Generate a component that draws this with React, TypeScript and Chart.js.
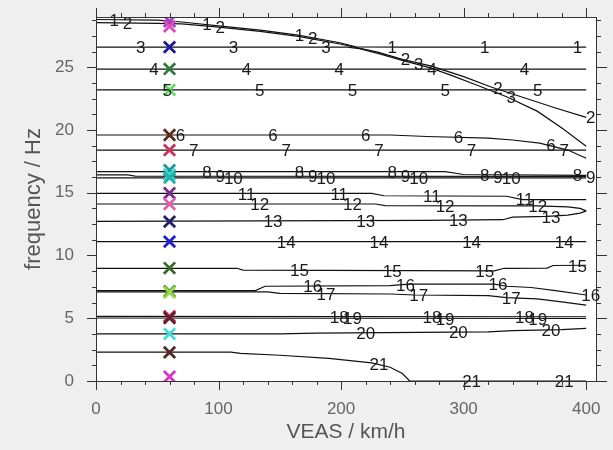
import React, { useEffect, useRef } from "react";
import { Chart, registerables } from "chart.js";
Chart.register(...registerables);

// ---- axes ----
const X_MIN = 0;
const X_MAX = 408;
const Y_MIN = 0;
const Y_MAX = 29;
const X_TICK_VALUES = [0, 100, 200, 300, 400];
const Y_TICK_VALUES = [0, 5, 10, 15, 20, 25];
const X_MAJOR = 100;
const X_MINOR = 20;
const X_LAST_TICK = 400;
const Y_MAJOR = 5;
const Y_MINOR = 1.25;
const Y_LAST_TICK = 28.75;

// ---- mode labels: placed on the speed grid (3 m/s = 10.8 km/h), every 7th point ----
const LABEL_SPEED_STEP = 10.8;
const LABEL_PERIOD = 7;
const LABEL_MAX_INDEX = 37;

// ---- modes: [VEAS km/h, frequency Hz] ----
const MODE_01: [number, number][] = [[0, 28.8], [50, 28.75], [70, 28.6], [100, 28.3], [134, 27.95], [165, 27.55], [199, 26.95], [212, 26.62], [250, 26.6], [400, 26.6]];
const MODE_02: [number, number][] = [[0, 28.55], [50, 28.5], [70, 28.45], [100, 28.2], [134, 27.85], [165, 27.45], [199, 26.85], [230, 26.2], [250, 25.62], [273, 25.1], [300, 24.25], [323, 23.4], [350, 22.55], [375, 21.75], [400, 21.0]];
const MODE_03: [number, number][] = [[0, 26.6], [205, 26.6], [215, 26.48], [230, 26.1], [250, 25.55], [273, 24.95], [290, 24.35], [310, 23.6], [335, 22.65], [360, 21.5], [381, 20.1], [400, 18.7]];
const MODE_04: [number, number][] = [[0, 24.85], [400, 24.85]];
const MODE_05: [number, number][] = [[0, 23.2], [400, 23.2]];
const MODE_06: [number, number][] = [[0, 19.6], [240, 19.6], [270, 19.48], [320, 19.35], [340, 19.2], [362, 18.95], [385, 18.4], [400, 17.75]];
const MODE_07: [number, number][] = [[0, 18.4], [400, 18.4]];
const MODE_08: [number, number][] = [[0, 16.68], [285, 16.68], [300, 16.45], [400, 16.38]];
const MODE_09: [number, number][] = [[0, 16.42], [26, 16.42], [32, 16.32], [400, 16.3]];
const MODE_10: [number, number][] = [[0, 16.18], [400, 16.18]];
const MODE_11: [number, number][] = [[0, 14.95], [225, 14.95], [235, 14.76], [335, 14.72], [348, 14.45], [400, 14.45]];
const MODE_12: [number, number][] = [[0, 14.1], [228, 14.1], [236, 13.98], [360, 13.95], [385, 13.88], [395, 13.75], [400, 13.55]];
const MODE_13: [number, number][] = [[0, 12.72], [270, 12.8], [332, 12.85], [340, 13.05], [368, 13.12], [385, 13.22], [395, 13.38], [400, 13.55]];
const MODE_14: [number, number][] = [[0, 11.1], [400, 11.1]];
const MODE_15: [number, number][] = [[0, 8.98], [115, 8.98], [120, 8.84], [325, 8.78], [333, 8.98], [368, 9.0], [373, 9.2], [400, 9.22]];
const MODE_16: [number, number][] = [[0, 7.2], [130, 7.2], [138, 7.55], [240, 7.6], [255, 7.72], [325, 7.72], [335, 7.55], [355, 7.45], [375, 7.2], [400, 6.85]];
const MODE_17: [number, number][] = [[0, 7.1], [140, 7.1], [150, 6.98], [240, 6.93], [260, 6.85], [320, 6.8], [335, 6.65], [360, 6.55], [380, 6.3], [400, 6.05]];
const MODE_18: [number, number][] = [[0, 5.15], [400, 5.12]];
const MODE_19: [number, number][] = [[0, 5.02], [400, 4.98]];
const MODE_20: [number, number][] = [[0, 3.75], [150, 3.75], [180, 3.82], [320, 3.92], [340, 4.02], [380, 4.1], [400, 4.2]];
const MODE_21: [number, number][] = [[0, 2.3], [110, 2.3], [118, 2.2], [150, 2.05], [190, 1.8], [225, 1.45], [240, 1.1], [250, 0.6], [256, 0], [400, 0]];

const MODES = [MODE_01, MODE_02, MODE_03, MODE_04, MODE_05, MODE_06, MODE_07, MODE_08, MODE_09, MODE_10, MODE_11, MODE_12, MODE_13, MODE_14, MODE_15, MODE_16, MODE_17, MODE_18, MODE_19, MODE_20, MODE_21];

// ---- crosses at one speed ----
const CROSS_SPEED = 60;
const CROSS_FREQ = [28.65, 28.25, 26.6, 24.86, 23.2, 19.6, 18.4, 16.8, 16.45, 16.2, 14.97, 14.1, 12.7, 11.1, 9.0, 7.15, 7.05, 5.15, 5.02, 3.75, 2.28, 0.35];
const CROSS_COLORS = ["#a040c8", "#e048c0", "#1a1a9a", "#2e7d3a", "#66dd66", "#5a2a1a", "#cc3355", "#1a9a9a", "#40d0d0", "#20b2aa", "#7a2a8a", "#e060b0", "#222266", "#2020cc", "#3a6a2a", "#3a9a2a", "#9ad84a", "#c02050", "#602030", "#44dddd", "#552828", "#dd33cc"];

const BG = "#efefef";
const FONT = '"Liberation Sans", Arial, Helvetica, sans-serif';

function freqAt(pts: [number, number][], v: number): number {
  for (let i = 0; i < pts.length - 1; i++) {
    const [x0, y0] = pts[i];
    const [x1, y1] = pts[i + 1];
    if (v >= x0 && v <= x1) return y0 + ((y1 - y0) * (v - x0)) / (x1 - x0);
  }
  return pts[pts.length - 1][1];
}

const decorPlugin = {
  id: "decor",
  beforeDraw(chart: any) {
    const { ctx, chartArea: a } = chart;
    ctx.save();
    ctx.fillStyle = BG;
    ctx.fillRect(0, 0, chart.width, chart.height);
    ctx.fillStyle = "#ffffff";
    ctx.fillRect(a.left, a.top, a.right - a.left, a.bottom - a.top);
    ctx.restore();
  },
  afterDatasetsDraw(chart: any) {
    const { ctx } = chart;
    const xs = chart.scales.x;
    const ys = chart.scales.y;
    ctx.save();
    ctx.font = `17px ${FONT}`;
    ctx.fillStyle = "#1a1a1a";
    ctx.textAlign = "center";
    ctx.textBaseline = "middle";
    MODES.forEach((pts, idx) => {
      const k = idx + 1;
      for (let i = k; i <= LABEL_MAX_INDEX; i += LABEL_PERIOD) {
        const v = i * LABEL_SPEED_STEP;
        const f = freqAt(pts, v);
        const px = xs.getPixelForValue(v);
        const py = ys.getPixelForValue(f);
        ctx.fillText(String(k), px + 5, py + 1.5);
      }
    });
    ctx.restore();
  },
  afterDraw(chart: any) {
    const { ctx, chartArea: a } = chart;
    const xs = chart.scales.x;
    const ys = chart.scales.y;
    ctx.save();
    ctx.strokeStyle = "#333333";
    ctx.lineWidth = 1;
    ctx.strokeRect(Math.round(a.left) + 0.5, Math.round(a.top) + 0.5, Math.round(a.right - a.left), Math.round(a.bottom - a.top));
    ctx.beginPath();
    for (let v = X_MIN; v <= X_LAST_TICK + 1e-6; v += X_MINOR) {
      const major = Math.abs(v % X_MAJOR) < 1e-6;
      const px = Math.round(xs.getPixelForValue(v)) + 0.5;
      const len = major ? 9 : 4;
      ctx.moveTo(px, a.bottom);
      ctx.lineTo(px, a.bottom + len);
      ctx.moveTo(px, a.top);
      ctx.lineTo(px, a.top - len);
    }
    for (let f = Y_MIN; f <= Y_LAST_TICK + 1e-6; f += Y_MINOR) {
      const major = Math.abs(f % Y_MAJOR) < 1e-6;
      const py = Math.round(ys.getPixelForValue(f)) + 0.5;
      ctx.moveTo(a.left, py);
      ctx.lineTo(a.left - (major ? 9 : 4), py);
      ctx.moveTo(a.right, py);
      ctx.lineTo(a.right + (major ? 11 : 5), py);
    }
    ctx.stroke();
    ctx.restore();
  },
};

export default function App() {
  const ref = useRef<HTMLCanvasElement | null>(null);
  useEffect(() => {
    document.body.style.margin = "0";
    document.body.style.background = BG;
    const canvas = ref.current;
    if (!canvas) return;
    Chart.defaults.font.family = FONT;
    const lineSets = MODES.map((pts) => ({
      data: pts.map(([x, y]) => ({ x, y })),
      showLine: true,
      borderColor: "#111111",
      borderWidth: 1.2,
      pointRadius: 0,
      fill: false,
      tension: 0,
      order: 1,
    }));
    const crossSet = {
      data: CROSS_FREQ.map((f) => ({ x: CROSS_SPEED, y: f })),
      showLine: false,
      pointStyle: "crossRot",
      pointRadius: 8,
      pointBorderWidth: 2.8,
      pointBorderColor: CROSS_COLORS,
      pointBackgroundColor: CROSS_COLORS,
      order: 0,
    };
    const chart = new Chart(canvas, {
      type: "scatter",
      data: { datasets: [crossSet as any, ...lineSets] },
      plugins: [decorPlugin],
      options: {
        animation: false,
        responsive: false,
        events: [],
        layout: { padding: { left: 0, top: 17, right: 17, bottom: 0 } },
        plugins: { legend: { display: false }, tooltip: { enabled: false } },
        scales: {
          x: {
            type: "linear",
            min: X_MIN,
            max: X_MAX,
            afterFit: (s: any) => { s.height = 69; s.paddingLeft = 0; s.paddingRight = 0; },
            afterBuildTicks: (s: any) => { s.ticks = X_TICK_VALUES.map((value) => ({ value })); },
            ticks: { padding: 18, color: "#666666", font: { size: 17 }, maxRotation: 0, autoSkip: false },
            grid: { display: false, drawTicks: false },
            border: { display: false },
            title: { display: true, text: "VEAS / km/h", color: "#555555", font: { size: 21 }, padding: { top: 0, bottom: 5 } },
          },
          y: {
            type: "linear",
            min: Y_MIN,
            max: Y_MAX,
            afterFit: (s: any) => { s.width = 96; s.paddingTop = 0; s.paddingBottom = 0; },
            afterBuildTicks: (s: any) => { s.ticks = Y_TICK_VALUES.map((value) => ({ value })); },
            ticks: { padding: 22, color: "#666666", font: { size: 17 }, autoSkip: false },
            grid: { display: false, drawTicks: false },
            border: { display: false },
            title: { display: true, text: "frequency / Hz", color: "#555555", font: { size: 22 }, padding: { top: 21, bottom: 0 } },
          },
        },
      } as any,
    });
    return () => chart.destroy();
  }, []);
  return <canvas ref={ref} width={613} height={450} style={{ display: "block", width: 613, height: 450 }} />;
}
